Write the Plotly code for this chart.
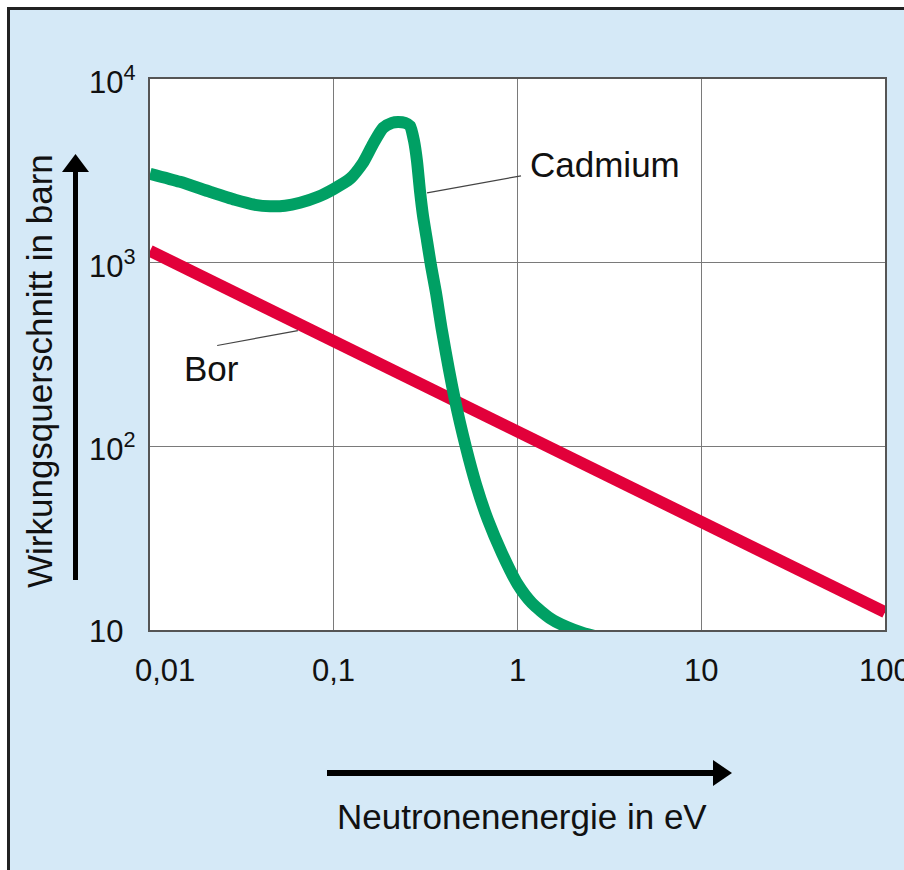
import numpy as np
import plotly.graph_objects as go

# ---------------- data ----------------
cadmium_energy = [0.01, 0.01457, 0.0212, 0.0290, 0.0373, 0.0450, 0.0543, 0.0655, 0.0821,
                  0.1, 0.1225, 0.144, 0.1636, 0.1855, 0.2075, 0.2238, 0.2443, 0.260,
                  0.2734, 0.2838, 0.2946, 0.306, 0.3218, 0.3383, 0.360, 0.388, 0.457,
                  0.524, 0.594, 0.691, 0.823, 1.0, 1.199, 1.503, 1.859, 2.273, 2.81]
cadmium_sigma = [3050, 2755, 2431, 2200, 2066, 2028, 2041, 2119, 2284,
                 2520, 2860, 3490, 4430, 5420, 5770, 5834, 5770, 5555,
                 4603, 3581, 2460, 1800, 1317, 963, 687, 427, 178,
                 98.8, 62.2, 39.6, 26.2, 17.8, 14.0, 11.6, 10.38, 9.63, 9.12]

bor_energy = [0.01, 0.1, 1, 10, 100]
bor_sigma = [1160, 374, 121, 38.9, 12.5]

x_tick_vals = [0.01, 0.1, 1, 10, 100]
x_tick_text = ["0,01", "0,1", "1", "10", "100"]
y_tick_vals = [10, 100, 1000, 10000]
y_tick_text = ["10", "10<sup>2</sup>", "10<sup>3</sup>", "10<sup>4</sup>"]

labels = ["Cadmium", "Bor"]
label_pos = [(1.14, 3430), (0.0149, 267)]
connector_from = [(0.322, 2400), (0.0232, 354)]
connector_to = [(1.045, 2970), (0.0638, 427)]

x_title = "Neutronenenergie in eV"
y_title = "Wirkungsquerschnitt in barn"

# ---------------- style ----------------
W, H = 904, 870
L, R, T, B = 150, 885, 79, 630
BLUE = "#d5e9f7"
GREEN = "#00a064"
RED = "#e2003a"
FONT = "Liberation Sans, Arial, Helvetica, sans-serif"


def px(x):
    return (x - L) / (R - L)


def py(y):
    return (B - y) / (B - T)


fig = go.Figure()

fig.add_trace(go.Scatter(x=bor_energy, y=bor_sigma, mode="lines",
                         line=dict(color=RED, width=12), showlegend=False,
                         hoverinfo="skip"))
fig.add_trace(go.Scatter(x=cadmium_energy, y=cadmium_sigma, mode="lines",
                         line=dict(color=GREEN, width=12, shape="spline", smoothing=0.6),
                         showlegend=False, hoverinfo="skip"))

for (x0, y0), (x1, y1) in zip(connector_from, connector_to):
    fig.add_trace(go.Scatter(x=[x0, x1], y=[y0, y1], mode="lines",
                             line=dict(color="#444444", width=1.2),
                             showlegend=False, hoverinfo="skip"))

annotations = []
for name, (lx, ly) in zip(labels, label_pos):
    annotations.append(dict(x=np.log10(lx), y=np.log10(ly), xref="x", yref="y",
                            text=name, showarrow=False, xanchor="left", yanchor="middle",
                            font=dict(family=FONT, size=35, color="#111111")))

# x tick labels
for i, (v, t) in enumerate(zip(x_tick_vals, x_tick_text)):
    annotations.append(dict(x=np.log10(v), y=py(670), xref="x", yref="paper",
                            text=t, showarrow=False, xanchor="center", yanchor="middle",
                            xshift=15 if i == 0 else 0,
                            font=dict(family=FONT, size=31, color="#111111")))
# y tick labels (left aligned on the "10")
for v, t in zip(y_tick_vals, y_tick_text):
    annotations.append(dict(x=px(87), y=np.log10(v), xref="paper", yref="y",
                            text=t, showarrow=False, xanchor="left", yanchor="middle",
                            yshift=-1,
                            font=dict(family=FONT, size=31, color="#111111")))

annotations.append(dict(x=px(522), y=py(816), xref="paper", yref="paper",
                        text=x_title, showarrow=False, xanchor="center", yanchor="middle",
                        font=dict(family=FONT, size=35, color="#111111")))
annotations.append(dict(x=px(39), y=py(371), xref="paper", yref="paper",
                        text=y_title, showarrow=False, textangle=-90,
                        xanchor="center", yanchor="middle",
                        font=dict(family=FONT, size=35, color="#111111")))

shapes = [
    # white margin strips at top and left
    dict(type="rect", xref="paper", yref="paper", x0=px(0), x1=px(W), y0=py(0), y1=py(7),
         fillcolor="white", line=dict(width=0), layer="below"),
    dict(type="rect", xref="paper", yref="paper", x0=px(0), x1=px(7), y0=py(0), y1=py(H),
         fillcolor="white", line=dict(width=0), layer="below"),
    # dark frame lines (top and left)
    dict(type="line", xref="paper", yref="paper", x0=px(7), x1=px(W), y0=py(8.5), y1=py(8.5),
         line=dict(color="#222222", width=3), layer="below"),
    dict(type="line", xref="paper", yref="paper", x0=px(8.5), x1=px(8.5), y0=py(7), y1=py(H),
         line=dict(color="#222222", width=3), layer="below"),
    # vertical axis arrow
    dict(type="line", xref="paper", yref="paper", x0=px(75.5), x1=px(75.5), y0=py(580), y1=py(168),
         line=dict(color="black", width=5)),
    dict(type="path", xref="paper", yref="paper",
         path=f"M {px(62)} {py(172)} L {px(89)} {py(172)} L {px(75.5)} {py(154)} Z",
         fillcolor="black", line=dict(width=0)),
    # horizontal axis arrow
    dict(type="line", xref="paper", yref="paper", x0=px(327), x1=px(716), y0=py(773), y1=py(773),
         line=dict(color="black", width=6)),
    dict(type="path", xref="paper", yref="paper",
         path=f"M {px(713)} {py(760)} L {px(713)} {py(786)} L {px(732)} {py(773)} Z",
         fillcolor="black", line=dict(width=0)),
]

fig.update_layout(
    width=W, height=H,
    margin=dict(l=L, r=W - R, t=T, b=H - B, pad=0),
    paper_bgcolor=BLUE,
    plot_bgcolor="white",
    annotations=annotations,
    shapes=shapes,
    showlegend=False,
    xaxis=dict(type="log", range=[-2, 2], tickvals=x_tick_vals, showticklabels=False,
               ticks="", showgrid=True, gridcolor="#7a7a7a", gridwidth=1,
               showline=True, mirror=True, linecolor="#555555", linewidth=2,
               zeroline=False, fixedrange=True),
    yaxis=dict(type="log", range=[1, 4], tickvals=y_tick_vals, showticklabels=False,
               ticks="", showgrid=True, gridcolor="#7a7a7a", gridwidth=1,
               showline=True, mirror=True, linecolor="#555555", linewidth=2,
               zeroline=False, fixedrange=True),
)

fig.write_html(
    "out.html",
    config={"displayModeBar": False, "staticPlot": True},
    post_script="document.body.style.margin='0';"
                "document.documentElement.style.overflow='hidden';"
                "document.body.style.overflow='hidden';",
)
